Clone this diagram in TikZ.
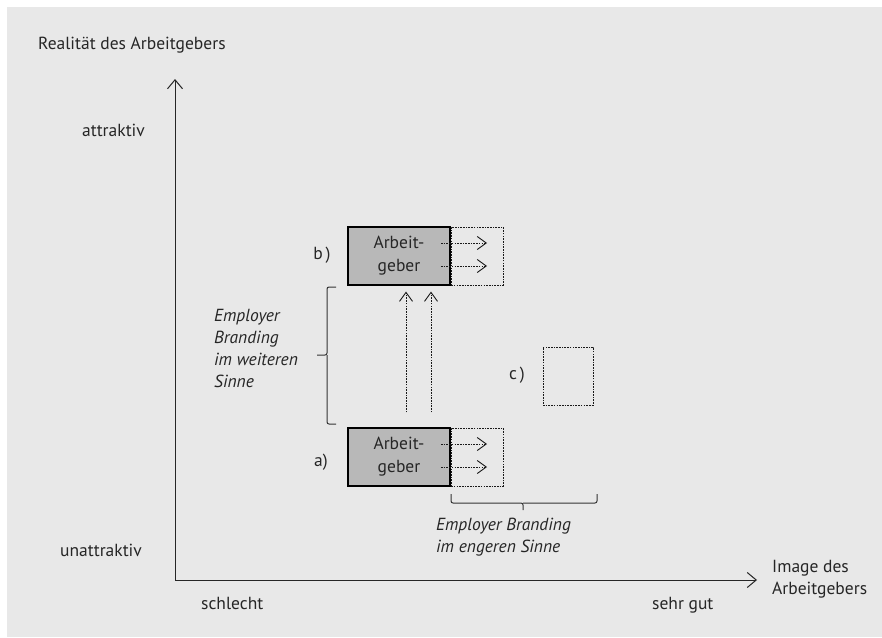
\documentclass[tikz,border=0pt]{standalone}
\usepackage{fontspec}
\setmainfont{PT Sans}
\usetikzlibrary{arrows.meta}
\definecolor{bg}{HTML}{E8E8E8}
\definecolor{boxgray}{HTML}{B8B8B8}
\definecolor{ink}{HTML}{262626}
\begin{document}
\begin{tikzpicture}[x=1pt,y=-1pt,
  lbl/.style={font=\fontsize{17.5}{21}\selectfont, text=ink, inner sep=0pt},
  ital/.style={lbl, font=\fontsize{17.5}{22}\selectfont\itshape, align=left},
  firm/.style={draw=black, line width=1.2pt, fill=boxgray, minimum width=102pt,
    minimum height=58pt, inner sep=0pt, align=center, text=ink,
    font=\fontsize{17.5}{23}\selectfont},
  dots/.style={dash pattern=on 1.6pt off 1.1pt, line width=1pt, draw=black!90},
  reach/.style={dots, minimum width=52pt, minimum height=58pt, inner sep=0pt},
  push/.style={dots, -{Straight Barb[length=9pt,width=13pt,line width=0.9pt]}},
  axis/.style={line width=1pt, draw=black!85, -{Straight Barb[length=9pt,width=15pt,line width=1pt]}},
  brace/.style={line width=1pt, draw=black!80, rounded corners=2pt}]
  % background
  \fill[white] (0,0) rectangle (882,637);
  \fill[bg] (7,7) rectangle (882,637);
  \useasboundingbox (0,0) rectangle (882,637);

  % axes
  \coordinate (origin) at (175,580);
  \coordinate (ytip) at (175,79);
  \coordinate (xtip) at (757,580);
  \draw[axis] (origin) -- (ytip);
  \draw[axis] (origin) -- (xtip);

  % axis labels
  \node[lbl, anchor=west] (ytitle) at (38,45) {Realität des Arbeitgebers};
  \node[lbl, anchor=west] (hi) at (82,130) {attraktiv};
  \node[lbl, anchor=west] (lo) at (60,550) {unattraktiv};
  \node[lbl, anchor=west] (bad) at (201,603) {schlecht};
  \node[lbl, anchor=west] (good) at (652,605) {sehr gut};
  \node[lbl, anchor=west, align=left, font=\fontsize{17.5}{22}\selectfont] (xtitle) at (772,579) {Image des\\Arbeitgebers};

  % employer b (upper)
  \node[firm] (fb) at (399,256) {Arbeit-\\geber};
  \node[reach, anchor=west] (rb) at (fb.east) {};
  \node[lbl] (lb) at (322,255) {b\,)};
  \coordinate (b1s) at (441,243); \coordinate (b1e) at (487,243);
  \coordinate (b2s) at (441,266); \coordinate (b2e) at (487,266);
  \draw[push] (b1s) -- (b1e);
  \draw[push] (b2s) -- (b2e);

  % employer a (lower)
  \node[firm] (fa) at (399,457) {Arbeit-\\geber};
  \node[reach, anchor=west] (ra) at (fa.east) {};
  \node[lbl] (la) at (321,462) {a)};
  \coordinate (a1s) at (441,444); \coordinate (a1e) at (487,444);
  \coordinate (a2s) at (441,467); \coordinate (a2e) at (487,467);
  \draw[push] (a1s) -- (a1e);
  \draw[push] (a2s) -- (a2e);

  % upward shift from a to b
  \draw[push] ([xshift=7pt,yshift=15pt]fa.north) -- ([xshift=7pt,yshift=-6pt]fb.south);
  \draw[push] ([xshift=32pt,yshift=15pt]fa.north) -- ([xshift=32pt,yshift=-6pt]fb.south);

  % option c
  \node[reach, minimum width=50pt] (fc) at (568,376) {};
  \node[lbl] (lc) at (517,375) {c\,)};

  % brace: broader sense
  \draw[brace] (336,287) -- (327,287) -- (327,355) -- (317,355);
  \draw[brace] (327,355) -- (327,424) -- (336,424);
  \node[ital, anchor=north west] (wide) at (214,309) {Employer\\Branding\\im weiteren\\Sinne};

  % brace: narrower sense
  \draw[brace] (451,494) -- (451,503) -- (523,503) -- (523,510);
  \draw[brace] (523,503) -- (597,503) -- (597,494);
  \node[ital, anchor=north west] (narrow) at (436,518) {Employer Branding\\im engeren Sinne};
\end{tikzpicture}
\end{document}
